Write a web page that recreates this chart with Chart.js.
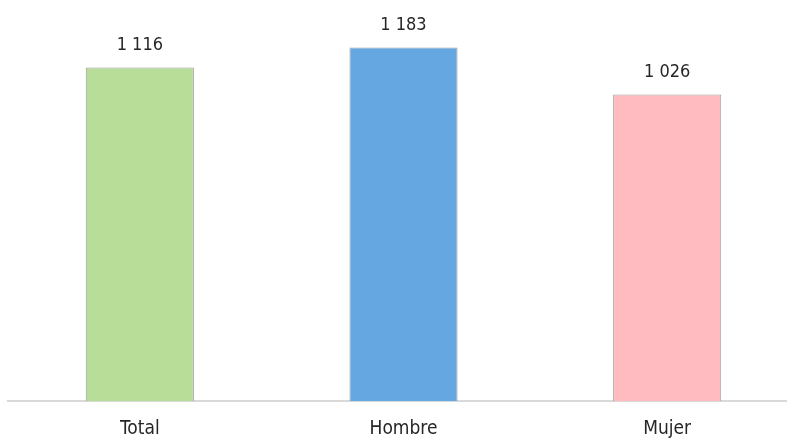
<!DOCTYPE html>
<html>
<head>
<meta charset="utf-8">
<script src="https://cdn.jsdelivr.net/npm/chart.js@4"></script>
<style>
  html, body { margin: 0; padding: 0; background: #fff; overflow: hidden; }
  #wrap { width: 799px; height: 439px; position: relative; }
</style>
</head>
<body>
<div id="wrap"><canvas id="chart"></canvas></div>
<script>
const categories = ['Total', 'Hombre', 'Mujer'];
const values = [1116, 1183, 1026];
const barColors = ['#b7dd99', '#65a7e1', '#ffbbc0'];

const FONT = "'DejaVu Sans Condensed', 'Liberation Sans Narrow', sans-serif";

// labels like "1 116" above each bar
const valueLabels = {
    id: 'valueLabels',
    afterDatasetsDraw(chart) {
        const ctx = chart.ctx;
        const meta = chart.getDatasetMeta(0);
        ctx.save();
        ctx.font = '18px ' + FONT;
        ctx.fillStyle = '#262626';
        ctx.textAlign = 'center';
        ctx.textBaseline = 'middle';
        meta.data.forEach((bar, i) => {
            const txt = values[i].toLocaleString('en-US').replace(/,/g, ' ');
            ctx.fillText(txt, bar.x, bar.y - 22);
        });
        ctx.restore();
    }
};

new Chart(document.getElementById('chart'), {
    type: 'bar',
    data: {
        labels: categories,
        datasets: [{
            data: values,
            backgroundColor: barColors,
            borderColor: '#a0a0a0',
            borderWidth: 1,
            categoryPercentage: 1,
            barPercentage: 0.41
        }]
    },
    options: {
        responsive: true,
        maintainAspectRatio: false,
        animation: false,
        layout: { padding: { left: 8, right: 0, top: 0, bottom: 0 } },
        plugins: { legend: { display: false }, tooltip: { enabled: false } },
        scales: {
            x: {
                grid: { display: false },
                border: { display: true, color: '#d9d9d9', width: 2 },
                ticks: { color: '#262626', font: { family: FONT, size: 19 }, padding: 9 },
                afterFit: (s) => { s.height = 38; }
            },
            y: {
                display: false,
                min: 0,
                max: 1342
            }
        }
    },
    plugins: [valueLabels]
});
</script>
</body>
</html>
